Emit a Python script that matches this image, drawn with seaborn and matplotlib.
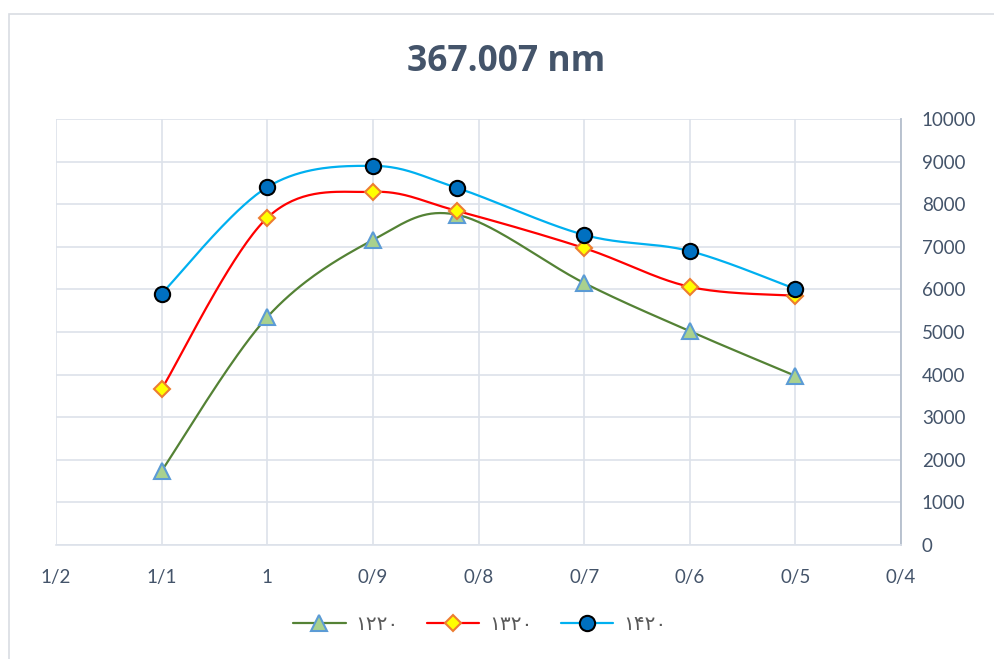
import numpy as np
import pandas as pd
import matplotlib
matplotlib.use("Agg")
import matplotlib.pyplot as plt
import seaborn as sns
from matplotlib.lines import Line2D
from matplotlib.patches import Rectangle

# ---- data ----
x_vals = [1.1, 1.0, 0.9, 0.82, 0.7, 0.6, 0.5]
s1220 = [1740, 5350, 7160, 7750, 6150, 5020, 3970]
s1320 = [3660, 7680, 8290, 7840, 6970, 6060, 5850]
s1420 = [5900, 8400, 8900, 8380, 7280, 6900, 6010]
series_names = ["۱۲۲۰", "۱۳۲۰", "۱۴۲۰"]
x_ticks = [1.2, 1.1, 1.0, 0.9, 0.8, 0.7, 0.6, 0.5, 0.4]
x_tick_labels = ["1/2", "1/1", "1", "0/9", "0/8", "0/7", "0/6", "0/5", "0/4"]
y_ticks = [0, 1000, 2000, 3000, 4000, 5000, 6000, 7000, 8000, 9000, 10000]
title = "367.007 nm"

line_colors = ["#548235", "#FF0000", "#00B0F0"]
markers = ["^", "D", "o"]
m_face = ["#A9D18E", "#FFFF00", "#0070C0"]
m_edge = ["#5B9BD5", "#ED7D31", "#000000"]
m_size = [11, 8, 11]


def smooth(xs, ys, n=40):
    """Excel-like smoothed line: cubic Bezier with Catmull-Rom control points."""
    P = np.column_stack([xs, ys]).astype(float)
    out = []
    t = np.linspace(0, 1, n)
    for i in range(len(P) - 1):
        p0 = P[i - 1] if i > 0 else P[i]
        p1 = P[i]
        p2 = P[i + 1]
        p3 = P[i + 2] if i + 2 < len(P) else P[i + 1]
        c1 = p1 + (p2 - p0) / 6.0
        c2 = p2 - (p3 - p1) / 6.0
        seg = ((1 - t) ** 3)[:, None] * p1 + (3 * (1 - t) ** 2 * t)[:, None] * c1 \
            + (3 * (1 - t) * t ** 2)[:, None] * c2 + (t ** 3)[:, None] * p2
        out.append(seg if i == 0 else seg[1:])
    arr = np.vstack(out)
    return arr[:, 0], arr[:, 1]


sns.set_theme(style="white")
plt.rcParams['font.family'] = ['Lato', 'DejaVu Sans']

fig = plt.figure(figsize=(9.94, 6.59), dpi=100)
fig.patch.set_facecolor("white")
fig.patches.append(Rectangle((9 / 994, -0.1), 1.2, (659 - 14) / 659 + 0.1,
                             transform=fig.transFigure, fill=False,
                             edgecolor="#D9DDE3", lw=1.2, zorder=0))

ax = fig.add_axes([56 / 994, (659 - 545) / 659, 845 / 994, 426 / 659])

for i, ys in enumerate([s1220, s1320, s1420]):
    sx, sy = smooth(x_vals, ys)
    df_line = pd.DataFrame({"x": sx, "y": sy})
    sns.lineplot(data=df_line, x="x", y="y", ax=ax, color=line_colors[i],
                 lw=1.6, sort=False, estimator=None, zorder=2 + i)
    df_pts = pd.DataFrame({"x": x_vals, "y": ys})
    ax.plot(df_pts["x"], df_pts["y"], ls="none", marker=markers[i],
            ms=m_size[i], mfc=m_face[i], mec=m_edge[i], mew=1.5, zorder=5 + i)

ax.set_xlim(1.2, 0.4)
ax.set_ylim(0, 10000)
ax.set_xticks(x_ticks)
ax.set_xticklabels(x_tick_labels)
ax.set_yticks(y_ticks)
ax.yaxis.tick_right()
ax.set_xlabel("")
ax.set_ylabel("")
ax.grid(True, color="#DDE2EA", lw=1.2)
for s in ["left", "top"]:
    ax.spines[s].set_visible(False)
ax.spines["right"].set_color("#B4BECC")
ax.spines["bottom"].set_color("#DDE2EA")
ax.spines["right"].set_linewidth(1.3)
ax.spines["bottom"].set_linewidth(1.2)
ax.tick_params(axis="x", length=0, pad=17, labelsize=13.5, labelcolor="#44546A")
ax.tick_params(axis="y", length=0, pad=15, labelsize=13.5, labelcolor="#44546A")
for lab in ax.get_yticklabels():
    lab.set_horizontalalignment("left")

fig.text(506 / 994, 1 - 62 / 659, title, ha="center", va="center",
         fontsize=25.5, fontweight="bold", color="#44546A",
         family=["Open Sans", "DejaVu Sans"])

handles = [Line2D([0], [0], color=line_colors[i], lw=1.6, marker=markers[i],
                  ms=m_size[i], mfc=m_face[i], mec=m_edge[i], mew=1.5)
           for i in range(3)]
leg = fig.legend(handles, series_names, loc="center", ncol=3,
                 bbox_to_anchor=(480 / 994, 1 - 625 / 659), frameon=False,
                 handlelength=2.6, columnspacing=1.4, handletextpad=0.5,
                 prop={"family": ["DejaVu Sans"], "size": 14.5})
for t in leg.get_texts():
    t.set_color("#595959")

fig.savefig("out.png", dpi=100, facecolor="white")
